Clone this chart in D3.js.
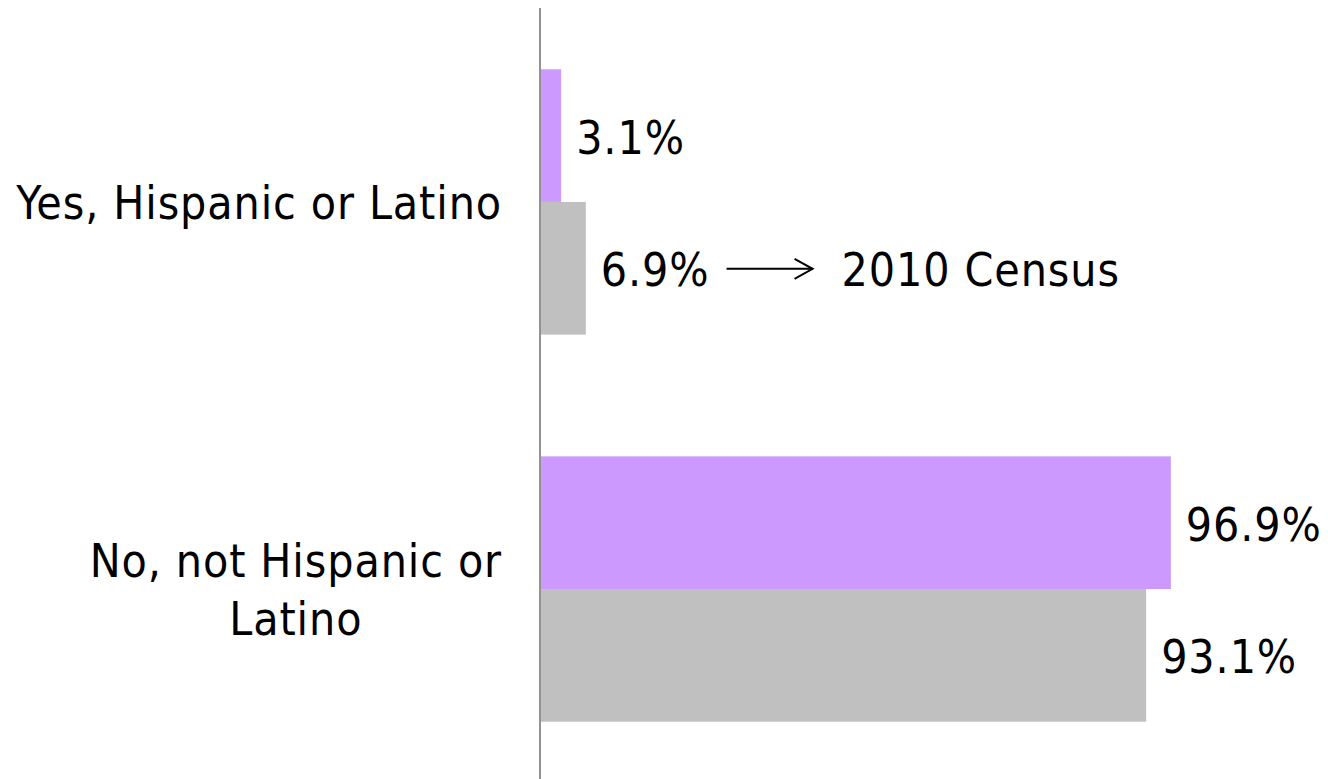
<!DOCTYPE html>
<html><head><meta charset="utf-8">
<script src="https://cdn.jsdelivr.net/npm/d3@7"></script>
<style>body{margin:0;background:#fff}svg{display:block}text{font-family:"DejaVu Sans Condensed","DejaVu Sans",sans-serif;fill:#000;letter-spacing:0.9px}</style>
</head><body><svg id="c" width="1328" height="779"></svg>
<script>
const categories = ["Yes, Hispanic or Latino", "No, not Hispanic or Latino"];
const categoryLines = [["Yes, Hispanic or Latino"], ["No, not Hispanic or", "Latino"]];
const seriesNames = ["Survey", "2010 Census"];
const surveyValues = [3.1, 96.9];
const censusValues = [6.9, 93.1];
const seriesColors = ["#CC99FF", "#C0C0C0"];
const annotation = "2010 Census";

const svg = d3.select("#c");
const fs = 46;
const x = d3.scaleLinear().domain([0, 100]).range([540, 1190]);
const y = d3.scaleBand().domain(categories).range([8.5, 782.5]).paddingInner(0.3145).paddingOuter(0.157);
const ys = d3.scaleBand().domain(seriesNames).range([0, y.bandwidth()]);

const data = [];
categories.forEach((c, i) => {
  data.push({cat: c, s: seriesNames[0], v: surveyValues[i], color: seriesColors[0], i});
  data.push({cat: c, s: seriesNames[1], v: censusValues[i], color: seriesColors[1], i});
});

svg.selectAll("rect.bar").data(data).join("rect").attr("class", "bar")
  .attr("x", x(0) + 1)
  .attr("y", d => y(d.cat) + ys(d.s))
  .attr("width", d => x(d.v) - x(0))
  .attr("height", ys.bandwidth())
  .attr("fill", d => d.color);

// value labels
svg.selectAll("text.val").data(data).join("text").attr("class", "val")
  .attr("x", d => x(d.v) + 16)
  .attr("y", d => y(d.cat) + ys(d.s) + ys.bandwidth() / 2 + 18)
  .attr("font-size", fs)
  .text(d => d.v.toFixed(1) + "%");

// axis line
const yAxis = d3.axisLeft(y).tickSize(0).tickFormat("");
const ag = svg.append("g").attr("transform", `translate(${x(0)},0)`).call(yAxis);
ag.select(".domain").attr("stroke", "#808080").attr("stroke-width", 1.7).attr("d", `M0,8V779`);

// category labels: block right-aligned, lines centered
categories.forEach((c, i) => {
  const lines = categoryLines[i];
  const g = svg.append("g");
  const lh = 58;
  const cy = y(c) + y.bandwidth() / 2;
  const first = cy - (lines.length - 1) * lh / 2 + 17;
  const texts = lines.map((l, k) => g.append("text").attr("font-size", fs).attr("y", first + k * lh).text(l));
  const widths = texts.map(t => t.node().getComputedTextLength());
  const w = Math.max(...widths);
  const right = 502;
  texts.forEach((t) => t.attr("x", right - w / 2).attr("text-anchor", "middle"));
});

// annotation arrow
const gray0 = data.find(d => d.i === 0 && d.s === seriesNames[1]);
const ay = y(gray0.cat) + ys(gray0.s) + ys.bandwidth() / 2 + 0.5;
const lbl = svg.selectAll("text.val").filter(d => d === gray0);
const lx = +lbl.attr("x") + lbl.node().getComputedTextLength() + 17;
svg.append("line").attr("x1", lx).attr("x2", lx + 86).attr("y1", ay).attr("y2", ay).attr("stroke", "#000").attr("stroke-width", 2);
svg.append("path").attr("d", `M${lx + 68},${ay - 10}L${lx + 86},${ay}L${lx + 68},${ay + 10}`).attr("fill", "none").attr("stroke", "#000").attr("stroke-width", 2);
svg.append("text").attr("x", lx + 115).attr("y", ay + 17).attr("font-size", fs).text(annotation);
</script></body></html>
